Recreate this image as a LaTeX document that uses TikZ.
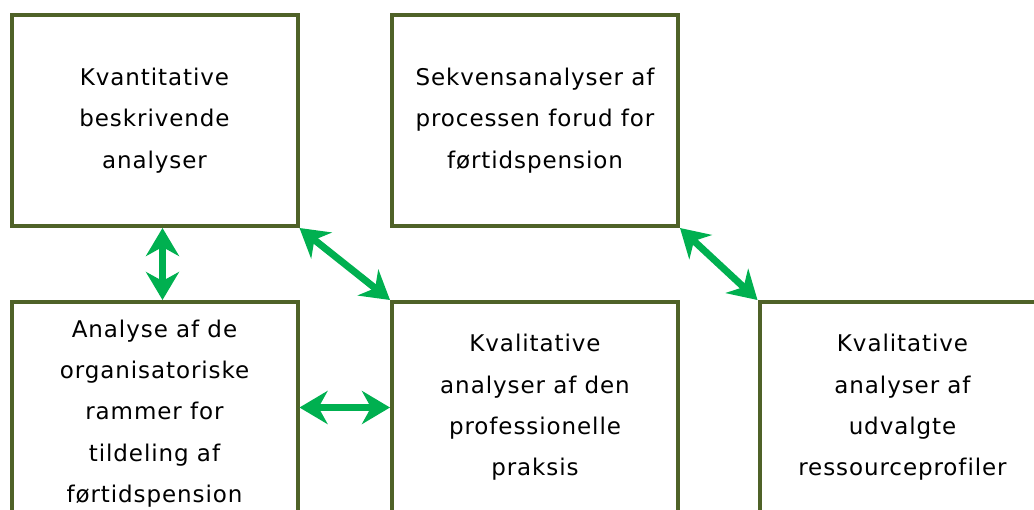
\documentclass[tikz,border=0pt]{standalone}
\usepackage{fontspec}
\setmainfont{DejaVu Sans}[LetterSpace=4,Ligatures=NoCommon]
\usetikzlibrary{arrows.meta}
\definecolor{boxline}{HTML}{4F6228}
\definecolor{linkgreen}{HTML}{00B050}
\tikzset{
  studybox/.style={draw=boxline, line width=4pt, rectangle, minimum width=286pt,
    minimum height=211pt, inner sep=0pt, align=center, text=black,
    font=\fontsize{23}{41.3}\selectfont},
  link/.style={draw=linkgreen, line width=7pt,
    {Stealth[length=28pt,width=33pt,inset=9pt]}-{Stealth[length=28pt,width=33pt,inset=9pt]}}
}
\begin{document}
\begin{tikzpicture}[x=1pt,y=-1pt]
\useasboundingbox (0,0) rectangle (1034,509);
\clip (0,0) rectangle (1034,509);
\node[studybox] (kvant) at (154.5,120.5) {Kvantitative\\beskrivende\\analyser};
\node[studybox] (sekv) at (535,120.5) {Sekvensanalyser af\\processen forud for\\førtidspension};
% this box runs past the lower edge, so it is drawn taller
\node[studybox, minimum height=223pt] (organ) at (154.5,413.5) {Analyse af de\\organisatoriske\\rammer for\\tildeling af\\førtidspension};
\node[studybox] (prof) at (535,407.5) {Kvalitative\\analyser af den\\professionelle\\praksis};
\node[studybox] (ress) at (902.5,407.5) {Kvalitative\\analyser af\\udvalgte\\ressourceprofiler};
\draw[link] ([xshift=8pt]kvant.south) -- ([xshift=8pt]organ.north);
\draw[link] (kvant.south east) -- (prof.north west);
\draw[link] (organ.east |- prof.west) -- (prof.west);
\draw[link] (sekv.south east) -- (ress.north west);
\end{tikzpicture}
\end{document}
